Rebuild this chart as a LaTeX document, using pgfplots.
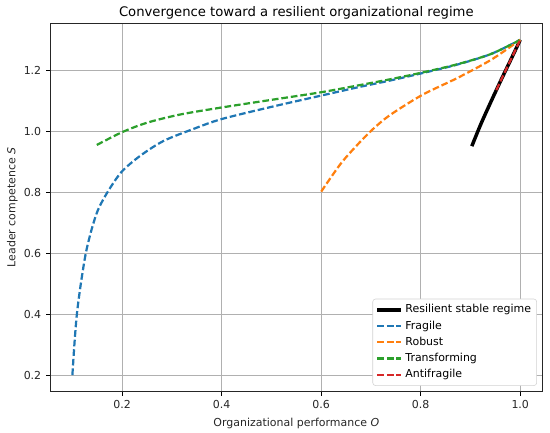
\documentclass[border=0pt]{standalone}
\usepackage{pgfplots}
\pgfplotsset{compat=1.18}
\usepackage{fontspec}
\setmainfont{DejaVu Sans}
\definecolor{mplblue}{HTML}{1F77B4}
\definecolor{mplorange}{HTML}{FF7F0E}
\definecolor{mplgreen}{HTML}{2CA02C}
\definecolor{mplred}{HTML}{D62728}
\definecolor{gridc}{HTML}{B0B0B0}
\begin{document}
\begin{tikzpicture}
\begin{axis}[
  at={(0,0)}, anchor=south west,
  scale only axis, width=354.7pt, height=265.5pt,
  xmin=0.055, xmax=1.045, ymin=0.145, ymax=1.355,
  xtick={0.2,0.4,0.6,0.8,1.0}, ytick={0.2,0.4,0.6,0.8,1.0,1.2},
  xtick pos=bottom, ytick pos=left,
  xticklabel style={/pgf/number format/fixed,/pgf/number format/fixed zerofill,/pgf/number format/precision=1},
  yticklabel style={/pgf/number format/fixed,/pgf/number format/fixed zerofill,/pgf/number format/precision=1},
  /pgf/number format/assume math mode=true,
  tick label style={font=\fontsize{7.9}{9.5}\selectfont, color=black!85},
  label style={font=\fontsize{7.9}{9.5}\selectfont, color=black!85},
  ylabel style={yshift=-2.5pt},
  tick align=outside, major tick length=2.8pt,
  tick style={black, line width=0.6pt},
  axis line style={black!85, line width=0.6pt},
  grid=major, grid style={gridc, line width=0.6pt},
  xlabel={Organizational performance \textit{O}},
  ylabel={Leader competence \textit{S}},
  title={Convergence toward a resilient organizational regime},
  title style={font=\fontsize{9.5}{11.4}\selectfont, yshift=-7pt},
  legend cell align=left,
  legend style={at={(rel axis cs:1,0)}, anchor=south east, xshift=-4.1pt, yshift=4.3pt,
    draw=gray!35, rounded corners=2pt, font=\fontsize{7.9}{9.5}\selectfont,
    row sep=0.2pt, inner sep=2.0pt},
  legend image code/.code={\draw[#1] (0pt,0pt) -- (17pt,0pt);},
  every axis plot/.append style={smooth, tension=0.5},
]
\addplot[black, line width=2.5pt, solid] coordinates {
(0.9027,0.951) (0.921,1.024) (0.942,1.100) (0.962,1.170) (0.982,1.238) (1.0,1.30)};
\addlegendentry{Resilient stable regime}
\addplot[mplblue, line width=1.6pt, dash pattern=on 4.8pt off 2.1pt] coordinates {
(0.100,0.20) (0.104,0.30) (0.109,0.40) (0.117,0.50) (0.127,0.60) (0.139,0.68)
(0.152,0.744) (0.172,0.804) (0.199,0.867) (0.236,0.919) (0.283,0.968) (0.344,1.008)
(0.4,1.040) (0.5,1.080) (0.6,1.117) (0.673,1.144) (0.74,1.167) (0.804,1.191)
(0.874,1.219) (0.942,1.254) (1.0,1.30)};
\addlegendentry{Fragile}
\addplot[mplorange, line width=1.6pt, dash pattern=on 4.8pt off 2.1pt] coordinates {
(0.6,0.802) (0.639,0.893) (0.673,0.956) (0.706,1.010) (0.74,1.055) (0.804,1.120)
(0.874,1.175) (0.942,1.235) (1.0,1.30)};
\addlegendentry{Robust}
\addplot[mplgreen, line width=1.6pt, dash pattern=on 4.8pt off 2.1pt] coordinates {
(0.149,0.955) (0.2,0.997) (0.25,1.028) (0.317,1.055) (0.4,1.078) (0.5,1.103)
(0.6,1.128) (0.673,1.150) (0.74,1.171) (0.804,1.193) (0.874,1.220) (0.942,1.254) (1.0,1.30)};
\addlegendentry{Transforming}
\addplot[mplred, line width=1.6pt, dash pattern=on 4.8pt off 2.1pt] coordinates {
(0.952,1.135) (0.962,1.170) (0.982,1.238) (1.0,1.30)};
\addlegendentry{Antifragile}
\end{axis}
\pgfresetboundingbox
\path[use as bounding box] (-36pt,-29pt) rectangle (360pt,282.1pt);
\end{tikzpicture}
\end{document}
